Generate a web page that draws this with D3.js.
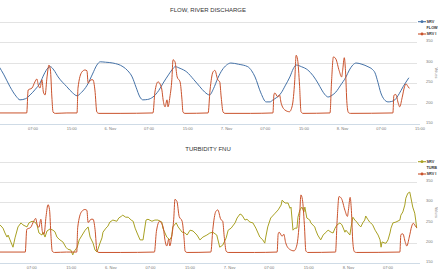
<!DOCTYPE html>
<html>
<head>
<meta charset="utf-8">
<title>SRV flow and turbidity</title>
<script src="https://d3js.org/d3.v7.min.js"></script>
<style>
*{ margin:0; padding:0; }
body{ background:#fff; }
svg{ display:block; font-family:"Liberation Sans", Arial, sans-serif; }
</style>
</head>
<body>
<script>
// hours counted from 5 Nov 07:00
var xTicks = [0, 8, 16, 24, 32, 40, 48, 56, 64, 72, 80];
var xTickLabels = ["07:00","15:00","6. Nov","07:00","15:00","7. Nov","07:00","15:00","8. Nov","07:00","15:00"];
var yTicks = [150, 200, 250, 300, 350, 400];
var yTickLabels = ["150","200","250","300","350",""];

var flow = [[-7,290],[-6,270],[-4.75,241],[-3.5,218],[-2.7,209],[-1.5,212],[-0.6,221],[0.5,235],[1.45,250],[2.3,272],[3.1,287],[3.6,290],[4.3,282],[5.2,265],[7.0,241],[8.2,226],[9.1,219],[10.0,227],[11.2,245],[12.3,272],[13.2,294],[13.9,302],[15,301],[16.5,299],[18.6,290],[19.6,280],[20.5,265],[21.3,240],[22.1,216],[22.7,209],[23.7,210],[24.8,216],[26.0,232],[26.9,250],[28.0,270],[28.7,282],[29.4,290],[30.4,286],[31.8,277],[33.2,259],[34.5,241],[35.5,228],[36.5,221],[37.3,236],[38.2,262],[39.1,282],[40.0,294],[40.9,299],[42.5,296],[44.4,290],[45.2,280],[45.9,265],[47.1,226],[48.2,204],[49.0,204],[49.6,209],[50.4,215],[51.3,226],[52.2,245],[53.1,265],[53.8,285],[54.4,294],[55.5,290],[56.8,282],[57.9,268],[58.9,250],[59.7,233],[60.4,221],[61.0,216],[61.8,220],[62.6,228],[63.6,245],[64.7,265],[65.4,282],[66.1,294],[66.8,299],[68.0,296],[69.25,290],[70.1,284],[70.7,275],[71.3,252],[71.9,226],[72.6,210],[73.4,204],[74.1,205],[74.8,209],[75.7,224],[76.5,241],[77.7,263]];

var other = [[-7,177],[-1.3,177],[-1.0,233],[-0.2,238],[0.4,253],[0.8,260],[1.1,245],[1.45,238],[1.85,258],[2.15,228],[2.5,221],[2.9,265],[3.3,294],[3.6,282],[3.9,216],[4.15,179],[4.6,176],[7,177],[9.1,177],[9.3,238],[10.1,277],[10.75,282],[11.15,280],[11.4,250],[12.0,258],[12.4,258],[12.8,233],[13.2,179],[13.6,176],[18,176],[24.8,177],[25.2,228],[25.85,253],[26.25,248],[26.65,233],[26.9,209],[27.3,192],[27.7,209],[27.9,192],[28.3,216],[28.7,258],[28.95,307],[29.35,302],[29.8,265],[30.4,253],[30.8,209],[31.0,179],[31.4,176],[36.2,177],[36.6,233],[37.2,277],[37.6,281],[38.2,258],[38.6,253],[38.9,216],[39.3,179],[39.7,176],[45,176],[49.6,177],[49.8,221],[50.0,226],[50.6,216],[50.95,221],[51.3,201],[52.1,184],[53.0,180],[53.6,195],[54.1,255],[54.4,318],[54.7,307],[55.1,245],[55.4,180],[55.8,176],[61.4,177],[61.7,250],[62.1,314],[62.6,309],[63.3,280],[63.8,265],[64.0,280],[64.35,312],[64.6,280],[64.9,200],[65.2,178],[65.6,176],[74.4,177],[74.6,220],[75.0,222],[75.5,201],[75.8,192],[76.3,214],[76.8,241],[77.1,248],[77.5,242],[77.8,237]];

var turb = [[-6.4,244],[-5.8,236],[-5.4,224],[-5.0,214],[-4.77,219],[-4.38,207],[-3.78,189],[-3.37,212],[-2.77,239],[-2.16,249],[-1.76,244],[-0.95,239],[-0.55,249],[0.06,253],[0.67,251],[1.07,244],[1.47,224],[2.08,219],[2.28,226],[2.69,214],[3.09,229],[3.7,234],[4.3,231],[4.7,227],[5.1,214],[5.7,207],[6.3,202],[6.9,189],[7.3,184],[7.9,182],[8.3,170],[8.5,177],[9.2,189],[9.6,207],[10.2,219],[10.8,231],[11.4,239],[11.8,214],[12.4,199],[12.8,182],[13.2,177],[13.8,199],[14.2,212],[14.4,226],[15.0,236],[15.4,241],[15.8,251],[16.4,256],[17.2,253],[17.6,261],[18.2,266],[18.4,268],[19.0,263],[19.5,263],[20.1,256],[20.5,253],[20.9,236],[21.3,224],[21.9,207],[22.5,207],[22.7,224],[23.1,256],[23.5,258],[24.3,253],[24.9,256],[25.5,256],[26.3,251],[26.5,236],[27.3,214],[27.5,212],[27.9,207],[28.3,216],[28.5,239],[29.2,249],[29.6,239],[30.4,226],[31.0,224],[31.4,219],[32.0,231],[32.6,229],[33.4,219],[34.0,207],[34.6,214],[35.4,219],[36.0,224],[36.6,226],[37.4,219],[38.0,189],[38.6,194],[39.3,212],[39.7,231],[40.3,236],[41.1,249],[41.5,261],[42.1,271],[42.5,268],[43.1,256],[43.5,258],[44.1,251],[44.7,249],[45.3,236],[46.1,214],[46.7,207],[47.1,199],[47.3,214],[47.7,239],[48.3,261],[49.2,273],[49.8,281],[50.4,293],[50.6,305],[51.2,298],[51.8,298],[52.2,285],[52.4,288],[52.8,231],[53.2,236],[53.6,236],[53.8,263],[54.2,281],[54.6,288],[55.0,276],[55.2,288],[55.6,261],[56.2,256],[56.4,249],[57.2,239],[57.4,231],[57.8,219],[58.4,207],[58.9,219],[59.3,224],[59.9,231],[60.5,226],[60.9,224],[61.3,236],[61.7,244],[62.3,249],[62.7,244],[63.3,226],[63.5,231],[64.3,219],[64.5,236],[64.9,263],[65.3,256],[65.7,251],[66.1,244],[66.5,239],[66.9,249],[67.3,256],[67.5,266],[67.9,258],[68.3,251],[68.5,249],[68.9,244],[69.4,231],[70.0,219],[70.4,207],[70.6,189],[70.8,202],[71.4,199],[71.6,199],[72.0,207],[72.4,224],[72.6,236],[73.0,249],[73.6,251],[74.4,256],[74.6,268],[75.0,276],[75.4,293],[75.6,310],[76.0,322],[76.4,325],[76.6,313],[77.0,288],[77.4,273],[77.6,256],[77.8,236]];

var BLUE = "#4572a7", RED = "#c9522c", OLIVE = "#a8a023";

var svg = d3.select("body").append("svg")
  .attr("width", 438).attr("height", 280);

function drawChart(cfg){
  var g = svg.append("g");
  var x = d3.scaleLinear().domain(cfg.xDomain).range(cfg.xRange);
  var y = d3.scaleLinear().domain([150, 400]).range([cfg.bottom, cfg.top]);

  g.append("text")
    .attr("x", 208).attr("y", cfg.titleY)
    .attr("text-anchor", "middle")
    .attr("font-size", 6).attr("fill", "#333")
    .text(cfg.title);

  // grid
  g.selectAll("line.grid").data(yTicks.slice(1)).enter().append("line")
    .attr("x1", 0).attr("x2", 417)
    .attr("y1", d => Math.round(y(d)) + 0.5).attr("y2", d => Math.round(y(d)) + 0.5)
    .attr("stroke", "#e3e3e3").attr("stroke-width", 1);

  g.append("line")
    .attr("x1", 0).attr("x2", 420)
    .attr("y1", Math.round(y(150)) + 0.5).attr("y2", Math.round(y(150)) + 0.5)
    .attr("stroke", "#cfdbe6").attr("stroke-width", 1);

  // right axis labels
  g.selectAll("text.ylab").data(yTicks).enter().append("text")
    .attr("x", 426).attr("y", d => y(d) - 1)
    .attr("dominant-baseline", "middle")
    .attr("font-size", 4).attr("fill", "#777")
    .text((d, i) => yTickLabels[i]);

  g.append("text")
    .attr("transform", "translate(435," + ((cfg.top + cfg.bottom) / 2) + ") rotate(90)")
    .attr("text-anchor", "middle")
    .attr("font-size", 3.6).attr("fill", "#888")
    .text("Values");

  // x labels
  g.selectAll("text.xlab").data(xTicks.filter(d => x(d) < 424)).enter().append("text")
    .attr("x", d => x(d)).attr("y", cfg.bottom + 6)
    .attr("text-anchor", "middle")
    .attr("font-size", 4).attr("fill", "#777")
    .text((d, i) => xTickLabels[i]);

  var clipId = "clip" + Math.round(cfg.top);
  svg.append("clipPath").attr("id", clipId).append("rect")
    .attr("x", 0).attr("y", cfg.top - 15).attr("width", 418).attr("height", cfg.bottom - cfg.top + 15);

  var plot = g.append("g").attr("clip-path", "url(#" + clipId + ")");

  cfg.series.forEach(function(s){
    var line = d3.line()
      .x(d => x(d[0])).y(d => y(d[1]))
      .curve(s.curve);
    plot.append("path")
      .datum(s.data)
      .attr("d", line)
      .attr("fill", "none")
      .attr("stroke", s.color)
      .attr("stroke-width", 1)
      .attr("stroke-linejoin", "round");
  });

  // legend
  cfg.series.forEach(function(s, i){
    var ly = cfg.legendY[i];
    g.append("line").attr("x1", 418).attr("x2", 426).attr("y1", ly).attr("y2", ly)
      .attr("stroke", s.color).attr("stroke-width", 1.1);
    g.append("circle").attr("cx", 422).attr("cy", ly).attr("r", 1.4).attr("fill", s.color);
    var t = g.append("text").attr("x", 426.5).attr("y", ly + 1.4)
      .attr("font-size", 3.8).attr("font-weight", "bold").attr("fill", "#333");
    t.append("tspan").attr("x", 426.5).text(s.legend[0]);
    if (s.legend[1]) t.append("tspan").attr("x", 426.5).attr("dy", 5.4).text(s.legend[1]);
  });
}

drawChart({
  title: "FLOW, RIVER DISCHARGE",
  titleY: 12,
  top: 21.7, bottom: 124,
  xDomain: [0, 80], xRange: [33, 420],
  legendY: [21.7, 34],
  series: [
    {data: flow, color: BLUE, curve: d3.curveMonotoneX, legend: ["SRV", "FLOW"]},
    {data: other, color: RED, curve: d3.curveMonotoneX, legend: ["SRV I"]}
  ]
});

drawChart({
  title: "TURBIDITY FNU",
  titleY: 151,
  top: 161.7, bottom: 263,
  xDomain: [0, 72], xRange: [31.7, 388],
  legendY: [161.7, 174],
  series: [
    {data: turb, color: OLIVE, curve: d3.curveLinear, legend: ["SRV", "TURB"]},
    {data: other, color: RED, curve: d3.curveMonotoneX, legend: ["SRV I"]}
  ]
});
</script>
</body>
</html>
